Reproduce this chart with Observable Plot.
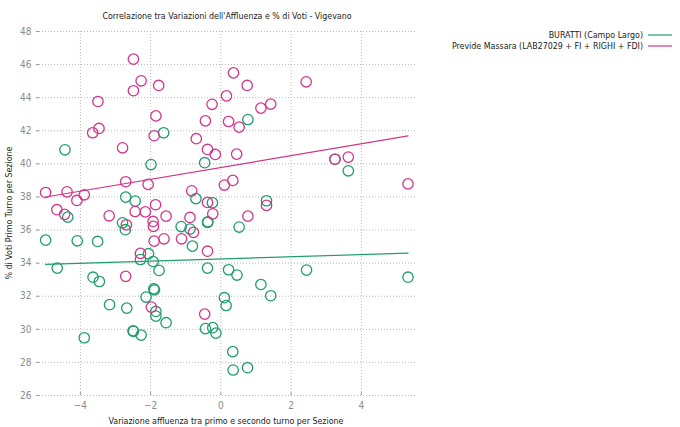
<!DOCTYPE html>
<html><head><meta charset="utf-8">
<script src="https://cdn.jsdelivr.net/npm/d3@7"></script>
<script src="https://cdn.jsdelivr.net/npm/@observablehq/plot@0.6"></script>
<style>
body{margin:0;background:#fff;}
svg text{font-family:"Liberation Sans Narrow","DejaVu Sans Condensed",sans-serif;}
</style></head><body><div id="chart"></div>
<script>
const title = "Correlazione tra Variazioni dell'Affluenza e % di Voti - Vigevano";
const xLabel = "Variazione affluenza tra primo e secondo turno per Sezione";
const yLabel = "% di Voti Primo Turno per Sezione";
const seriesNames = ["BURATTI (Campo Largo)", "Previde Massara (LAB27029 + FI + RIGHI + FDI)"];
const seriesColors = ["#1f9e6c", "#d2358a"];
const xTicks = [-4, -2, 0, 2, 4];
const yTicks = [26, 28, 30, 32, 34, 36, 38, 40, 42, 44, 46, 48];
const xDomain = [-5.25, 5.6];
const yDomain = [26, 48];

const burattiX = [-4.44, -1.63, -1.99, -0.46, 0.77, 3.63, 3.25, -2.71, -2.44, -0.71, -0.24, 1.30, -4.36, -2.80, -2.72, -1.13, -0.88, -0.38, -0.37, 0.52,
  -4.99, -4.09, -3.51, -0.81, -2.06, -2.29, -1.93, -1.76, -4.66, -0.38, 0.22, 0.46, 2.44, 5.33, -3.64, -3.46, -1.91, -1.89, -2.13, 1.14, 1.42,
  0.10, 0.15, -3.17, -2.68, -1.85, -1.85, -1.56, -0.44, -0.23, -0.14, -2.50, -2.49, -2.27, -3.89, 0.34, 0.35, 0.76];
const burattiY = [40.85, 41.88, 39.96, 40.07, 42.68, 39.58, 40.28, 37.99, 37.75, 37.90, 37.65, 37.77, 36.78, 36.44, 36.02, 36.21, 36.06, 36.46, 36.50, 36.18,
  35.39, 35.35, 35.31, 35.03, 34.57, 34.22, 34.10, 33.56, 33.70, 33.70, 33.60, 33.28, 33.58, 33.15, 33.15, 32.89, 32.45, 32.38, 31.95, 32.71, 32.03,
  31.91, 31.44, 31.49, 31.28, 31.08, 30.80, 30.40, 30.04, 30.10, 29.77, 29.91, 29.88, 29.65, 29.49, 28.65, 27.54, 27.68];

const previdelX = [-4.99, -4.38, -4.10, -3.89, -4.67, -4.45, -3.50, -3.65, -3.47, -2.49, -2.27, -2.49, -1.77, -1.85, -1.90, -2.80, -2.71, -2.07,
  -3.18, -2.44, -2.15, -1.86, -1.56, -0.88, -0.83, -0.70, -0.44, -0.25, -0.38, -0.16, -0.38, -0.23, 0.36, 0.75, 2.43, 0.16, 1.14, 1.42, 0.22,
  0.52, 0.45, 3.25, 3.63, 5.33, 0.34, 0.10, 1.30, 0.77, -2.69, -1.93, -1.92, -0.78, -1.90, -1.62, -1.12, -0.38, -2.29, -2.71, -1.98, -0.46];
const previdelY = [38.27, 38.31, 37.79, 38.13, 37.23, 36.95, 43.77, 41.88, 42.14, 46.33, 45.02, 44.42, 44.74, 42.90, 41.70, 40.97, 38.92, 38.76,
  36.86, 37.12, 37.10, 37.53, 36.84, 36.76, 38.37, 41.52, 42.60, 43.60, 40.87, 40.57, 37.67, 36.98, 45.50, 44.74, 44.96, 44.11, 43.37, 43.61, 42.56,
  42.22, 40.59, 40.28, 40.41, 38.79, 39.00, 38.72, 37.49, 36.84, 36.32, 36.52, 36.22, 35.86, 35.33, 35.47, 35.47, 34.72, 34.59, 33.20, 31.34, 30.92];

const data = [
  ...burattiX.map((x, i) => ({series: seriesNames[0], x, y: burattiY[i]})),
  ...previdelX.map((x, i) => ({series: seriesNames[1], x, y: previdelY[i]}))
];

const font = '"Liberation Sans Narrow","DejaVu Sans Condensed",sans-serif';
const labelSize = "8.8px";
const plot = Plot.plot({
  width: 680, height: 427,
  marginLeft: 36, marginRight: 263, marginTop: 31, marginBottom: 32,
  style: {fontFamily: font, fontSize: "10px", background: "white", overflow: "visible"},
  x: {domain: xDomain, label: null},
  y: {domain: yDomain, label: null},
  color: {domain: seriesNames, range: seriesColors},
  marks: [
    Plot.gridX(xTicks, {stroke: "#b8b8b8", strokeOpacity: 1, strokeDasharray: "1,2"}),
    Plot.gridY(yTicks, {stroke: "#b8b8b8", strokeOpacity: 1, strokeDasharray: "1,2"}),
    Plot.axisX(xTicks, {tickSize: -3, tickPadding: 9, color: "#8a8a8a", stroke: "#999", line: true, label: null}),
    Plot.axisY(yTicks, {tickSize: -3, tickPadding: 8, color: "#8a8a8a", stroke: "#999", line: true, label: null}),
    Plot.dot(data, {x: "x", y: "y", stroke: "series", r: 5.2, strokeWidth: 1.3}),
    Plot.linearRegressionY(data, {x: "x", y: "y", stroke: "series", ci: 0, strokeWidth: 1.2})
  ]
});
document.getElementById("chart").appendChild(plot);

const svg = d3.select(plot);
svg.append("text").attr("x", 227).attr("y", 18.5).attr("text-anchor", "middle")
  .attr("fill", "#222").style("font-size", labelSize).text(title);
svg.append("text").attr("x", 226).attr("y", 424).attr("text-anchor", "middle")
  .attr("fill", "#222").style("font-size", labelSize).text(xLabel);
svg.append("text").attr("transform", "translate(12,213) rotate(-90)").attr("text-anchor", "middle")
  .attr("fill", "#222").style("font-size", labelSize).text(yLabel);
const leg = svg.append("g");
seriesNames.forEach((name, i) => {
  const yy = 35 + i * 11;
  leg.append("text").attr("x", 643).attr("y", yy + 3.2).attr("text-anchor", "end")
    .attr("fill", "#222").style("font-size", labelSize).text(name);
  leg.append("line").attr("x1", 648).attr("x2", 672).attr("y1", yy).attr("y2", yy)
    .attr("stroke", seriesColors[i]).attr("stroke-width", 1.2);
});
</script></body></html>
